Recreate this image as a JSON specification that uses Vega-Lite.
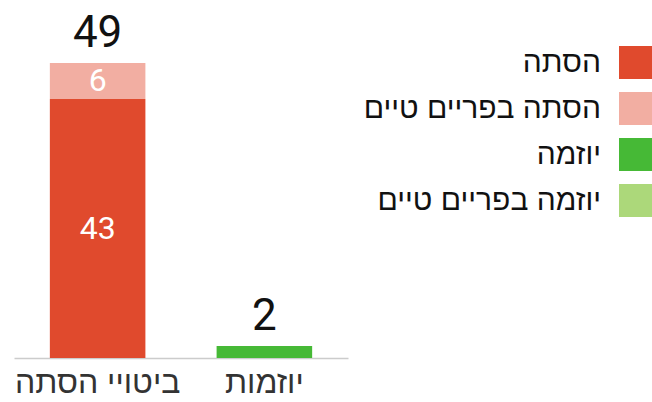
{
  "$schema": "https://vega.github.io/schema/vega-lite/v6.json",
  "autosize": {"type": "none"},
  "width": 334,
  "height": 295,
  "padding": {"left": 14, "top": 63, "right": 304, "bottom": 44},
  "background": "white",
  "config": {
    "view": {"stroke": null},
    "font": "Roboto, sans-serif"
  },
  "data": {
    "values": [
      {"category": "ביטויי הסתה", "type": "הסתה", "rank": 1, "value": 43},
      {"category": "ביטויי הסתה", "type": "הסתה בפריים טיים", "rank": 2, "value": 6},
      {"category": "יוזמות", "type": "יוזמה", "rank": 1, "value": 2},
      {"category": "יוזמות", "type": "יוזמה בפריים טיים", "rank": 2, "value": 0}
    ]
  },
  "encoding": {
    "x": {
      "field": "category",
      "type": "nominal",
      "sort": ["ביטויי הסתה", "יוזמות"],
      "scale": {"paddingInner": 0.427, "paddingOuter": 0.215},
      "axis": {
        "title": null,
        "labelAngle": 0,
        "labelFont": "Liberation Sans",
        "labelFontSize": 32,
        "labelColor": "#333333",
        "labelPadding": 9,
        "ticks": false,
        "domainColor": "#cccccc",
        "domainWidth": 1.5,
        "grid": false
      }
    }
  },
  "layer": [
    {
      "mark": {"type": "bar"},
      "encoding": {
        "y": {
          "field": "value",
          "type": "quantitative",
          "stack": "zero",
          "scale": {"domain": [0, 49], "nice": false},
          "axis": null
        },
        "order": {"field": "rank", "type": "quantitative"},
        "color": {
          "field": "type",
          "type": "nominal",
          "scale": {
            "domain": ["הסתה", "הסתה בפריים טיים", "יוזמה", "יוזמה בפריים טיים"],
            "range": ["#e04a2d", "#f2aea2", "#46b936", "#acd87a"]
          },
          "legend": {
            "title": null,
            "orient": "none",
            "legendX": 605,
            "legendY": -17,
            "padding": 0,
            "symbolType": "square",
            "symbolSize": 1089,
            "symbolStrokeWidth": 0,
            "symbolOpacity": 1,
            "labelOffset": -51,
            "labelAlign": "right",
            "labelFontSize": 30,
            "labelFont": "Liberation Sans",
            "labelColor": "#111111",
            "labelLimit": 400,
            "rowPadding": 13
          }
        }
      }
    },
    {
      "transform": [{"filter": {"field": "category", "equal": "ביטויי הסתה"}}],
      "mark": {"type": "text", "color": "white", "fontSize": 32, "baseline": "middle", "align": "center"},
      "encoding": {
        "y": {"field": "value", "type": "quantitative", "stack": "zero", "bandPosition": 0.5},
        "order": {"field": "rank", "type": "quantitative"},
        "detail": {"field": "type", "type": "nominal"},
        "text": {"field": "value", "type": "quantitative"}
      }
    },
    {
      "mark": {"type": "text", "color": "#111111", "fontSize": 44, "baseline": "alphabetic", "align": "center", "dy": -16},
      "encoding": {
        "y": {"aggregate": "sum", "field": "value", "type": "quantitative"},
        "text": {"aggregate": "sum", "field": "value", "type": "quantitative"}
      }
    }
  ]
}
